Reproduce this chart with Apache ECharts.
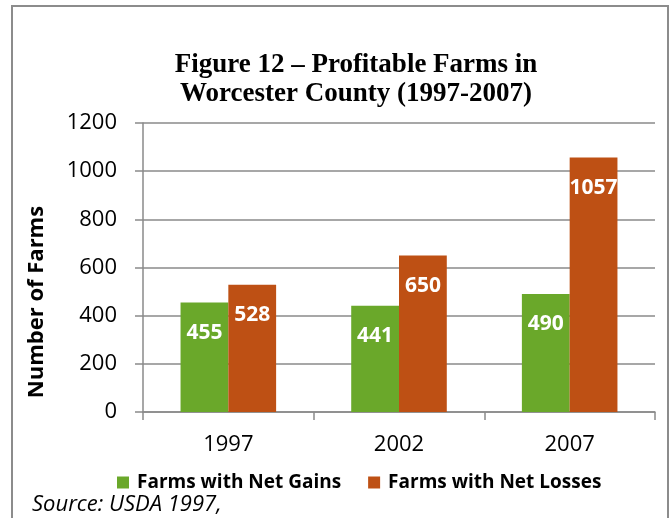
<!DOCTYPE html>
<html>
<head>
<meta charset="utf-8">
<script src="https://cdn.jsdelivr.net/npm/echarts@6/dist/echarts.min.js"></script>
<style>
  html, body { margin: 0; padding: 0; background: #ffffff; }
  #chart { width: 671px; height: 518px; }
</style>
</head>
<body>
<div id="chart"></div>
<script>
// Census years and farm counts for Worcester County
const years = ['1997', '2002', '2007'];
const netGains = [455, 441, 490];
const netLosses = [528, 650, 1057];
const seriesNames = ['Farms with Net Gains', 'Farms with Net Losses'];
const yTicks = { min: 0, max: 1200, interval: 200 };

const SANS = '"Open Sans", "Noto Sans", sans-serif';
const GRAY = '#8a8a8a';

const chart = echarts.init(document.getElementById('chart'), null, { renderer: 'canvas' });

const valueLabel = {
  show: true,
  position: 'insideTop',
  distance: 20,
  color: '#ffffff',
  fontFamily: SANS,
  fontWeight: 'bold',
  fontSize: 21
};

chart.setOption({
  animation: false,
  backgroundColor: '#ffffff',
  title: {
    text: 'Figure 12 – Profitable Farms in\nWorcester County (1997-2007)',
    left: 351,
    top: 46,
    textAlign: 'center',
    textStyle: {
      fontFamily: '"Liberation Serif", "Times New Roman", serif',
      fontWeight: 'bold',
      fontSize: 27,
      lineHeight: 29,
      color: '#000000'
    }
  },
  legend: {
    data: seriesNames,
    left: 112,
    top: 468,
    icon: 'rect',
    itemWidth: 12,
    itemHeight: 12,
    itemGap: 27,
    textStyle: {
      fontFamily: SANS,
      fontWeight: 'bold',
      fontSize: 19,
      color: '#000000',
      padding: [0, 0, 0, 3]
    }
  },
  grid: { left: 143, right: 16, top: 123, bottom: 106, containLabel: false },
  xAxis: {
    type: 'category',
    data: years,
    axisLine: { show: true, lineStyle: { color: GRAY, width: 1.5 } },
    axisTick: { show: true, alignWithLabel: false, length: 8, lineStyle: { color: GRAY, width: 1.5 } },
    axisLabel: { margin: 22, color: '#000000', fontFamily: SANS, fontSize: 22 }
  },
  yAxis: {
    type: 'value',
    min: yTicks.min,
    max: yTicks.max,
    interval: yTicks.interval,
    axisLine: { show: true, lineStyle: { color: GRAY, width: 1.5 } },
    axisTick: { show: true, length: 8, lineStyle: { color: GRAY, width: 1.5 } },
    splitLine: { show: true, lineStyle: { color: GRAY, width: 1.5 } },
    axisLabel: {
      margin: 26,
      color: '#000000',
      fontFamily: SANS,
      fontSize: 22,
      formatter: (v) => String(v)
    }
  },
  series: [
    {
      name: seriesNames[0],
      type: 'bar',
      data: netGains,
      barGap: '0%',
      barCategoryGap: '44%',
      itemStyle: { color: '#6aa82a' },
      label: valueLabel
    },
    {
      name: seriesNames[1],
      type: 'bar',
      data: netLosses,
      barGap: '0%',
      barCategoryGap: '44%',
      itemStyle: { color: '#be5014' },
      label: valueLabel
    }
  ],
  graphic: [
    {
      type: 'rect',
      shape: { x: 12, y: 6, width: 656, height: 560 },
      style: { fill: null, stroke: '#8c8c8c', lineWidth: 2 },
      silent: true,
      z: 100
    },
    {
      type: 'text',
      x: 37,
      y: 302,
      rotation: Math.PI / 2,
      style: {
        text: 'Number of Farms',
        fill: '#000000',
        font: 'bold 22px ' + SANS,
        textAlign: 'center',
        textVerticalAlign: 'middle'
      }
    },
    {
      type: 'text',
      x: 32,
      y: 505,
      style: {
        text: 'Source: USDA 1997,',
        fill: '#000000',
        font: 'italic 22px ' + SANS,
        textAlign: 'left',
        textVerticalAlign: 'middle'
      }
    }
  ]
});
</script>
</body>
</html>
